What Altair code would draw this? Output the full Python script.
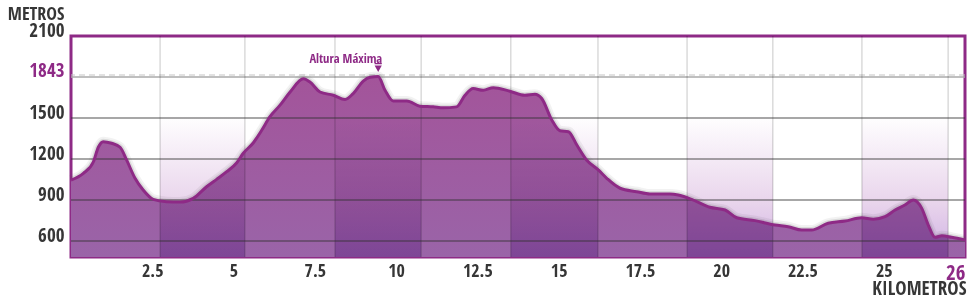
import altair as alt
import pandas as pd

# ---- data ----
km = [0, 0.38, 0.69, 0.84, 0.99, 1.25, 1.51, 1.71, 1.97, 2.22, 2.53, 2.94, 3.35, 3.76,
      4.17, 4.48, 4.79, 5.10, 5.30, 5.61, 5.87, 6.12, 6.43, 6.74, 7.15, 7.35, 7.66, 8.07,
      8.43, 8.68, 8.99, 9.20, 9.45, 9.66, 9.91, 10.33, 10.73, 11.14, 11.45, 11.86, 12.12,
      12.37, 12.68, 12.99, 13.50, 13.96, 14.27, 14.48, 14.79, 15.04, 15.30, 15.56, 15.86,
      16.22, 16.48, 16.89, 17.40, 17.81, 18.42, 18.68, 19.09, 19.65, 20.12, 20.48, 21.04,
      21.66, 22.06, 22.48, 22.78, 23.29, 23.81, 24.32, 24.68, 25.04, 25.35, 25.65, 25.91,
      26.17, 26.37, 26.58, 26.79, 27.09, 27.5]
elev = [1046, 1095, 1180, 1286, 1327, 1315, 1286, 1193, 1059, 973, 905, 888, 885, 912,
        997, 1051, 1107, 1173, 1242, 1319, 1412, 1511, 1606, 1715, 1824, 1797, 1715, 1688,
        1653, 1702, 1805, 1837, 1843, 1729, 1641, 1641, 1598, 1592, 1584, 1592, 1688,
        1743, 1729, 1751, 1721, 1688, 1696, 1661, 1485, 1407, 1400, 1302, 1193,
        1120, 1059, 986, 961, 944, 944, 937, 905, 847, 827, 770, 749,
        717, 705, 680, 680, 730, 746, 770, 759, 778, 827, 863, 900,
        839, 717, 627, 639, 627, 607]

band_start = [2.74, 8.12, 13.53, 18.95, 24.33]
band_end = [5.35, 10.77, 16.21, 21.59, 26.98]
band_lines = [2.74, 5.35, 8.12, 10.77, 13.53, 16.21, 18.95, 21.59, 24.33, 26.98]
grid_levels = [600, 900, 1200, 1500]
max_elev = 1843
peak_km = 9.45
peak_label = "Altura Máxima"
x_ticks = [2.5, 5, 7.5, 10, 12.5, 15, 17.5, 20, 22.5, 25, 27.5]
y_ticks = [600, 900, 1200, 1500, 1843, 2100]

PURPLE = "#8E2A86"
DARK = "#363636"
FONT = ("'Liberation Sans Narrow', 'Arial Narrow', 'Noto Sans Condensed', "
        "'Open Sans Condensed', 'Roboto Condensed', 'DejaVu Sans Condensed', sans-serif")
W, H = 894, 221

profile = pd.DataFrame({"km": km, "m": elev})
bands = pd.DataFrame({"a": band_start, "b": band_end})
vlines = pd.DataFrame({"km": band_lines})
hlines = pd.DataFrame({"m": grid_levels})
peak = pd.DataFrame({"km": [peak_km], "m": [max_elev], "t": [peak_label]})

xs = alt.Scale(domain=[0, 27.5], nice=False, zero=False)
ys = alt.Scale(domain=[483, 1500, 1843, 2100], range=[H, 82, 40.5, 0], zero=False, nice=False)

x_axis = alt.Axis(
    values=x_ticks, title="KILOMETROS", grid=False, domain=False, ticks=False, tickSize=0,
    labelPadding=5, labelFlush=True, labelOverlap=False,
    labelExpr="datum.value > 27 ? '26' : format(datum.value, '~g')",
    labelColor={"expr": f"datum.value > 27 ? '{PURPLE}' : '{DARK}'"},
    labelFontSize={"expr": "datum.value > 27 ? 21 : 18"},
    labelFont=FONT, labelFontWeight="bold",
    titleFont=FONT, titleFontSize=19, titleFontWeight="bold", titleColor=DARK,
    titleAlign="right", titleBaseline="alphabetic", titleX=W + 1, titleY=37,
)
y_axis = alt.Axis(
    values=y_ticks, format="d", title="METROS", grid=False, domain=False, ticks=False, tickSize=0,
    labelPadding=7, labelBaseline="alphabetic", labelOverlap=False,
    labelColor={"expr": f"datum.value == 1843 ? '{PURPLE}' : '{DARK}'"},
    labelFont=FONT, labelFontSize=19, labelFontWeight="bold",
    titleFont=FONT, titleFontSize=18, titleFontWeight="bold", titleColor=DARK,
    titleAngle=0, titleAlign="right", titleBaseline="alphabetic", titleX=-7, titleY=-17,
)

X = lambda f: alt.X(f, type="quantitative", scale=xs, axis=x_axis)
Y = lambda f: alt.Y(f, type="quantitative", scale=ys, axis=y_axis)

max_solid = alt.Chart(peak).mark_rule(color="#aaaaaa", strokeWidth=1.5, yOffset=0.5).encode(y=Y("m"))
max_dash = alt.Chart(peak).mark_rule(color="#c4c4c4", strokeWidth=1, strokeDash=[6, 4], yOffset=-1.5).encode(y=Y("m"))

glow1 = alt.Chart(profile).mark_line(color="#555555", strokeWidth=10, opacity=0.08,
                                      interpolate="monotone").encode(x=X("km"), y=Y("m"))
glow2 = alt.Chart(profile).mark_line(color="#555555", strokeWidth=6, opacity=0.14,
                                      interpolate="monotone").encode(x=X("km"), y=Y("m"))

area_grad = alt.Gradient(
    gradient="linear", x1=0, x2=0, y1=0, y2=1,
    stops=[alt.GradientStop(color="#A3549A", offset=0),
           alt.GradientStop(color="#9A64A8", offset=1)],
)
area = alt.Chart(profile).mark_area(fill=area_grad, interpolate="monotone").encode(
    x=X("km"), y=Y("m"), y2=alt.datum(483)
)

band_grad = alt.Gradient(
    gradient="linear", x1=0, x2=0, y1=0, y2=1,
    stops=[alt.GradientStop(color="#ffffff", offset=0),
           alt.GradientStop(color="#ffffff", offset=0.36),
           alt.GradientStop(color="#E9D5EC", offset=0.75),
           alt.GradientStop(color="#D0B2E4", offset=1)],
)
overlay = alt.Chart(bands).mark_rect(fill=band_grad, blend="multiply").encode(
    x=X("a"), x2="b", y=alt.datum(2100), y2=alt.datum(483)
)

vrules = alt.Chart(vlines).mark_rule(color="#000000", opacity=0.22, strokeWidth=1).encode(x=X("km"))
hrules = alt.Chart(hlines).mark_rule(color="#333333", opacity=0.85, strokeWidth=1.2).encode(y=Y("m"))

line = alt.Chart(profile).mark_line(color=PURPLE, strokeWidth=3, interpolate="monotone",
                                     strokeJoin="round").encode(x=X("km"), y=Y("m"))

marker_path = "M-0.8,-1L0.8,-1L0.8,-0.7L-0.8,-0.7Z M-0.8,-0.45L0.8,-0.45L0,1Z"
marker = alt.Chart(peak).mark_point(shape=marker_path, size=81, filled=True, color=PURPLE,
                                    opacity=1, yOffset=-9).encode(x=X("km"), y=Y("m"))
label = alt.Chart(peak).mark_text(align="right", baseline="alphabetic", dx=4, dy=-14,
                                  font=FONT, fontSize=12.5, fontWeight="bold", color=PURPLE).encode(
    x=X("km"), y=Y("m"), text="t:N"
)

chart = alt.layer(
    max_solid, max_dash, glow1, glow2, area, overlay, vrules, hrules, line, marker, label
).properties(
    width=W, height=H,
    padding={"left": 71, "top": 36, "right": 5, "bottom": 43},
    autosize=alt.AutoSizeParams(type="none"),
    background="#ffffff",
).configure_view(stroke=PURPLE, strokeWidth=3)

chart.save("out.html", embed_options={"renderer": "svg", "actions": False})
